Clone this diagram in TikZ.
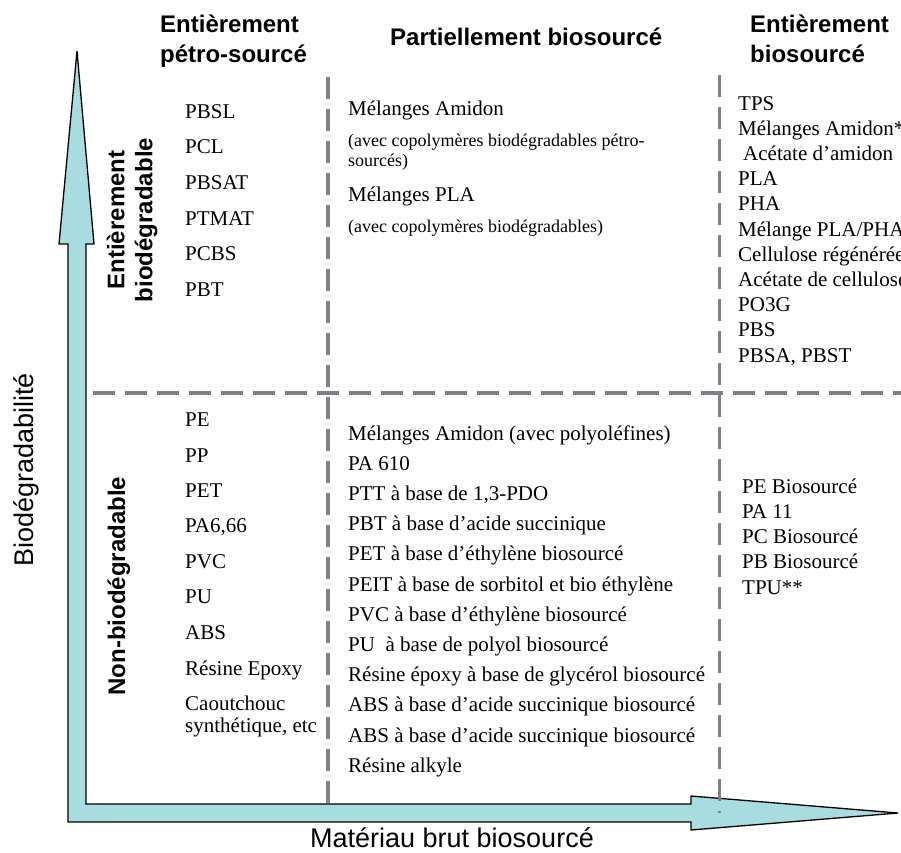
\documentclass[tikz,border=0pt]{standalone}
\usepackage{fontspec}
\setmainfont{Liberation Serif}
\setsansfont{Liberation Sans}
\begin{document}
\begin{tikzpicture}
    [x=1pt,y=-1pt,line join=miter,
    % Styles
    axis arrow/.style={draw=black,line width=1.3pt,fill=arrowcolor},
    separator/.style={draw=sepcolor,line width=3.2pt,dash pattern=on 22pt off 10pt},
    heading/.style={font=\sffamily\bfseries\fontsize{24}{30}\selectfont,anchor=base west,inner sep=0pt},
    axis label/.style={font=\sffamily\fontsize{27}{32}\selectfont,anchor=base,inner sep=0pt},
    row label/.style={font=\sffamily\bfseries\fontsize{24}{28}\selectfont,rotate=90,align=center,inner sep=0pt},
    item/.style={font=\fontsize{21}{25}\selectfont,anchor=base west,inner sep=0pt},
    note/.style={font=\fontsize{18}{20}\selectfont,anchor=base west,inner sep=0pt}]
    % Colors
    \definecolor{arrowcolor}{RGB}{168,220,224}
    \definecolor{sepcolor}{RGB}{128,128,134}
    % The graphic
    \useasboundingbox (0,0) rectangle (901,852);
    \clip (0,0) rectangle (901,852);
    \path[axis arrow] (68,822) -- (68,244) -- (59,244) -- (77,51) -- (94,244) -- (86,244)
      -- (86,804) -- (691,804) -- (691,796) -- (898,813) -- (691,830) -- (691,822) -- cycle;
    \draw[separator] (328,77) -- (328,813);
    \draw[separator] (719.5,75) -- (719.5,813);
    \draw[separator] (93,393) -- (901,393);
    % Headings and axis names
    \node[heading] (petro head) at (160,32) {Entièrement};
    \node[heading] (petro head 2) at (160,62) {pétro-sourcé};
    \node[heading] (partial head) at (390,45) {Partiellement biosourcé};
    \node[heading] (bio head) at (750,32) {Entièrement};
    \node[heading] (bio head 2) at (750,62) {biosourcé};
    \node[axis label,rotate=90] (y label) at (33,470) {Biodégradabilité};
    \node[axis label] (x label) at (452,847) {Matériau brut biosourcé};
    \node[row label] (degradable) at (132,220) {Entièrement\\biodégradable};
    \node[row label,anchor=base] (non degradable) at (125,586) {Non-biodégradable};
    % Fully petro-based
    \foreach \y/\txt [count=\i] in {118/PBSL,153/PCL,189/PBSAT,225/PTMAT,260/PCBS,296/PBT}
      \node[item] (petro up \i) at (185,\y) {\txt};
    \foreach \y/\txt [count=\i] in {426/PE,462/PP,497/PET,532/{PA6,66},568/PVC,603/PU,639/ABS,
      675/{Résine Epoxy},710/Caoutchouc,732/{synthétique, etc}}
      \node[item] (petro low \i) at (185,\y) {\txt};
    % Partially bio-based
    \node[item] (partial up 1) at (348,115) {Mélanges Amidon};
    \node[note] (partial up 2) at (348,146) {(avec copolymères biodégradables pétro-};
    \node[note] (partial up 3) at (348,166) {sourcés)};
    \node[item] (partial up 4) at (348,201) {Mélanges PLA};
    \node[note] (partial up 5) at (348,232) {(avec copolymères biodégradables)};
    \foreach \txt [count=\i] in {{Mélanges Amidon (avec polyoléfines)},{PA 610},{PTT à base de 1,3-PDO},
      {PBT à base d’acide succinique},{PET à base d’éthylène biosourcé},
      {PEIT à base de sorbitol et bio éthylène},{PVC à base d’éthylène biosourcé},
      {PU\ \ à base de polyol biosourcé},{Résine époxy à base de glycérol biosourcé},
      {ABS à base d’acide succinique biosourcé},{ABS à base d’acide succinique biosourcé},
      {Résine alkyle}}
      \node[item] (partial low \i) at (348,{440+30.2*(\i-1)}) {\txt};
    % Fully bio-based
    \foreach \txt [count=\i] in {TPS,{Mélanges Amidon*},{\hspace*{5pt}Acétate d’amidon},PLA,PHA,
      {Mélange PLA/PHA},{Cellulose régénérée},{Acétate de cellulose},PO3G,PBS,{PBSA, PBST}}
      \node[item] (bio up \i) at (738,{110+25.2*(\i-1)}) {\txt};
    \foreach \txt [count=\i] in {{PE Biosourcé},{PA 11},{PC Biosourcé},{PB Biosourcé},TPU**}
      \node[item] (bio low \i) at (742,{493+25.3*(\i-1)}) {\txt};
\end{tikzpicture}
\end{document}
